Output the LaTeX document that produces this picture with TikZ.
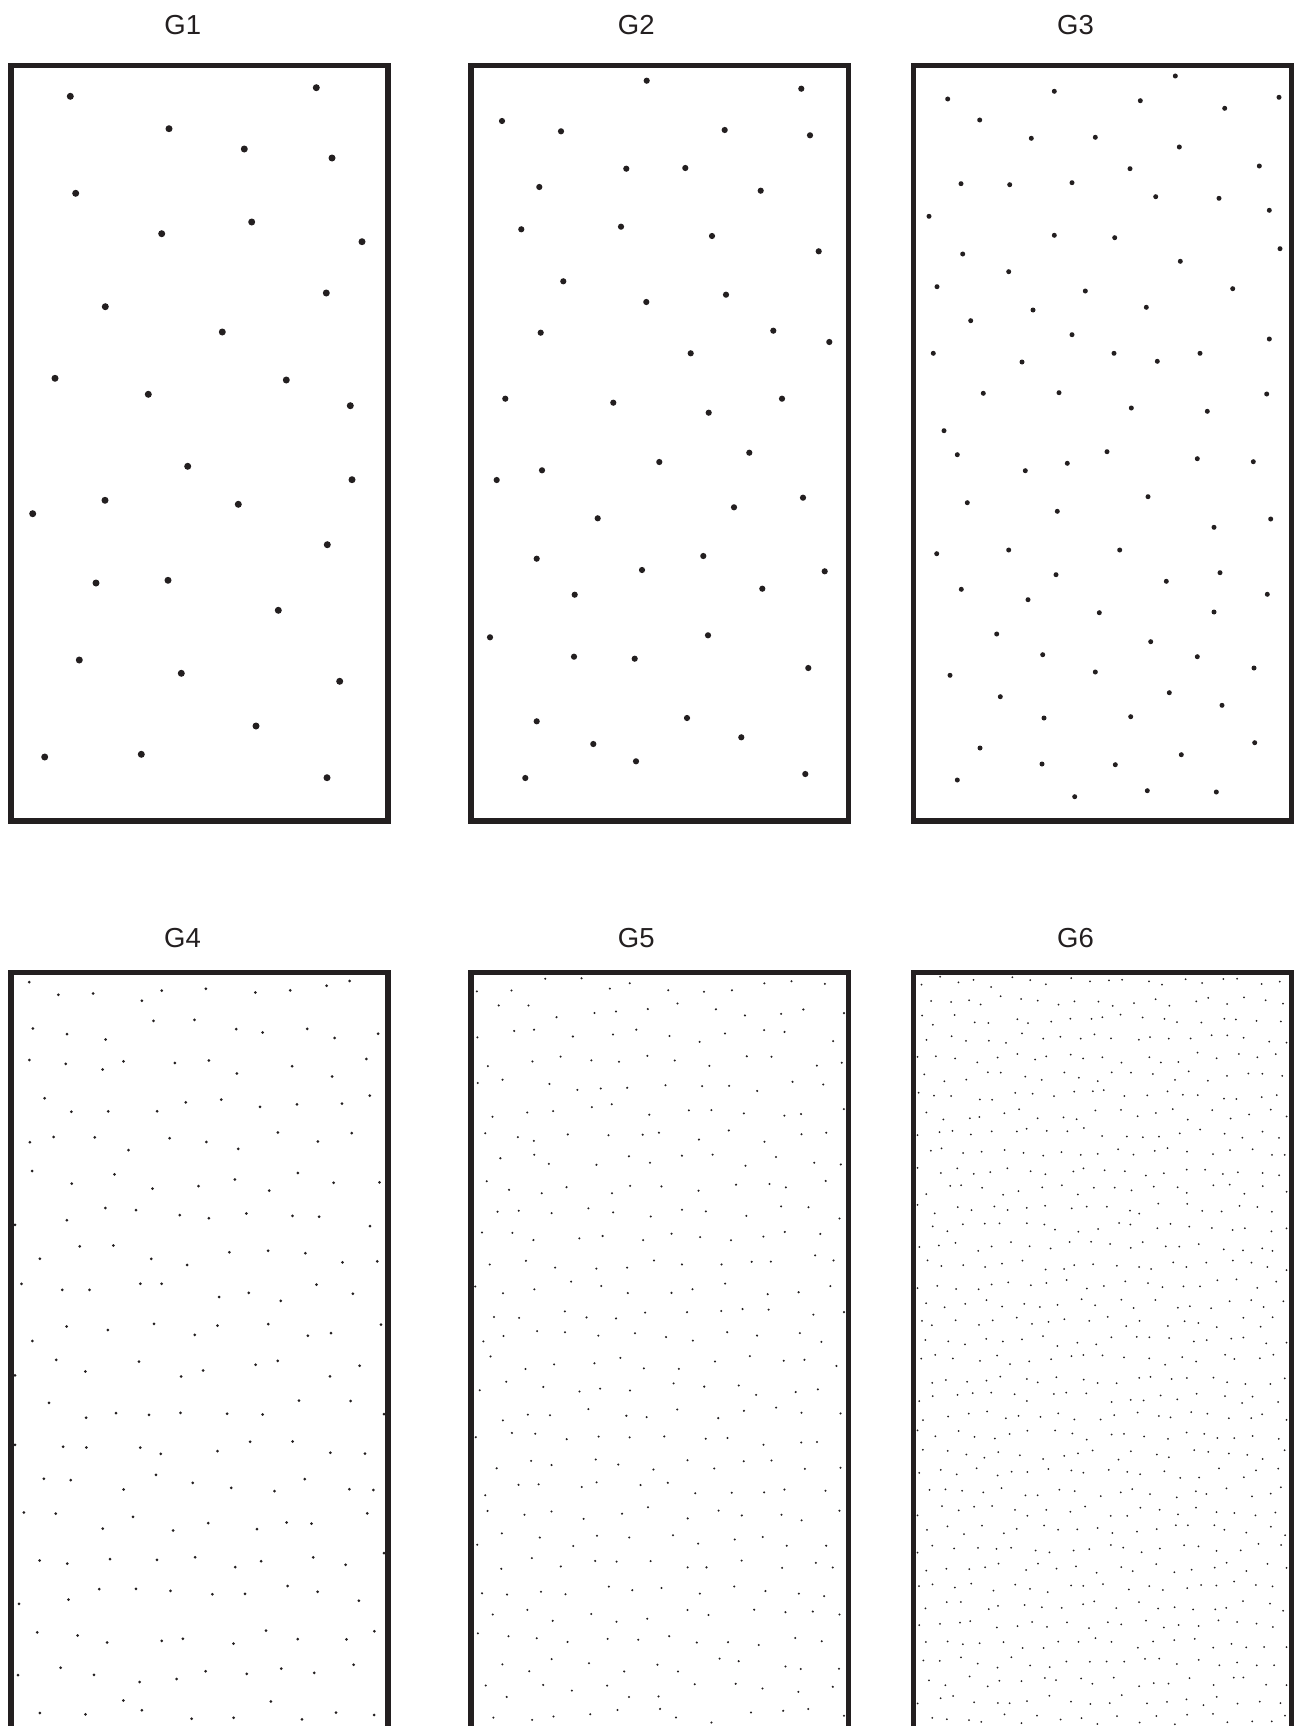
\documentclass[tikz,border=0pt]{standalone}
\usepackage{fontspec}
\setmainfont{Liberation Sans}
\definecolor{ink}{RGB}{35,31,32}
\begin{document}
\begin{tikzpicture}[x=1pt,y=-1pt]
\tikzset{
  frame/.style={draw=ink, line width=5.5pt},
  lbl/.style={font=\fontsize{27.5}{30}\selectfont, text=ink, anchor=base, inner sep=0pt}
}
\useasboundingbox (0,0) rectangle (1300,1726);
% labels
\node[lbl] (l1) at (182.7,34.3) {G1};
\node[lbl] (l2) at (636.3,34.3) {G2};
\node[lbl] (l3) at (1075.5,34.3) {G3};
\node[lbl] (l4) at (182.5,947.7) {G4};
\node[lbl] (l5) at (636.3,947.7) {G5};
\node[lbl] (l6) at (1075.5,947.7) {G6};
% G1 dots
\foreach \x/\y in {70.3/96.3,316.3/87.7,169/128.7,244.3/149,332/158,75.7/193.3,251.7/222,161.7/233.7,362/241.7,326.3/293,105.3/306.7,222.3/332,55/378.3,148.3/394.3,286.3/380,350.3/405.7,187.7/466.3,352/479.7,105/500.3,32.7/513.7,238.3/504.3,327.3/544.7,96/583,168/580.3,278.3/610.3,79.3/660,181.3/673.3,339.7/681.3,256/726,44.7/757,141.3/754.3,327/777.7}
  \fill[ink] (\x,\y) circle (3.5pt);
% G2 dots
\foreach \x/\y in {646.7/80.7,801.3/88.7,502/121,561/131.3,724.7/130,810/135.3,626.3/168.7,685.3/168,539.3/187,760.7/190.7,521.3/229.3,621/226.7,712/236,818.7/251.3,563.3/281.3,646.3/302,726/294.7,540.7/332.7,773.3/330.7,829.3/342,690.7/353.3,505.3/398.7,613.3/402.7,708.7/412.7,782/398.7,
749.3/452.7,659.3/462,542/470.3,496.7/480,803/497.7,734/507.3,597.7/518.3,536.7/558.7,703.3/556,642/570,824.7/571.3,574.7/594.7,762.3/588.7,490/637.3,708/635.3,574/656.7,634.7/658.7,808.3/668,536.7/721.3,687/718,741.3/737.3,593.3/744,636/761.3,525.3/778,805.3/774}
  \fill[ink] (\x,\y) circle (3.1pt);
% G3 dots
\foreach \x/\y in {1175.3/76,1054.3/91.3,947.7/99,1140.3/100.7,1279/97.3,1224.7/108.3,979.7/120,1031.3/138.3,1095.3/137.3,1179.3/147,1130/168.7,1259.3/166,961/183.7,1009.7/184.7,1072/182.7,1155.7/196.7,1219/198.3,1269.3/210.3,929/216.3,1054.3/235.3,1114.7/237.7,1280/248.7,962.7/254,1180.3/261.3,1008.7/271.7,937/286.7,1085.3/291,1232.7/288.7,1033/310,1146.3/307.3,970.7/320.7,1072/334.7,1269.3/339,933.3/353.3,1114/353.3,1022/362,1157.3/361.3,1200/353.3,983.3/393.3,1059/392.7,1266.7/394,1131.3/408,1207.3/411.3,944/430.7,
957.3/454.7,1107/451.7,1025.3/470.7,1067.3/463.3,1197.3/458.7,1253.3/461.7,967.3/502.7,1148/496.7,1057.3/511.3,1270.7/519,1214/527.3,936.7/553.7,1008.7/550,1119.7/550,1056/574.7,1220/572.7,1166.3/581.3,961.3/589.3,1028/599.7,1267.3/594.3,1099.3/612.7,1214/612,996.7/634,1150.7/641.7,1042.7/654.7,1197.3/656.7,950/675.3,1095.3/672,1254/668,1000.3/696.7,1169.3/692.7,1222/705.3,1044/718,1130.7/716.7,980/748,1181.3/754.7,1254.7/742.7,1042/764,1115.3/764.7,957.3/780,1074.7/796.7,1147.3/790.7,1216.3/792}
  \fill[ink] (\x,\y) circle (2.5pt);
% G4, G5, G6: jittered hexagonal grids
\pgfmathsetseed{4711}
% args: x0, y0, cols, rows, radius
\foreach \xo/\yo/\cols/\rows/\rad in {11/972.5/10/20/1.5, 471/972.5/12/30/1.15, 913.5/972.5/20/40/1.0}{
  \pgfmathsetmacro\sx{377/\cols}
  \pgfmathsetmacro\sy{756/\rows}
  \pgfmathtruncatemacro\cm{\cols-1}
  \pgfmathtruncatemacro\rm{\rows-1}
  \foreach \r in {0,...,\rm}{
    \foreach \c in {0,...,\cm}{
      \pgfmathsetmacro\px{\xo+\sx*(\c+0.25+0.5*mod(\r,2))+0.28*\sx*rand}
      \pgfmathsetmacro\py{\yo+\sy*(\r+0.5)+0.28*\sy*rand}
      \pgfmathsetmacro\qx{max(\xo+4,min(\xo+373,\px))}
      \pgfmathsetmacro\qy{max(\yo+4,\py)}
      \fill[ink] (\qx,\qy) circle (\rad pt);
    }
  }
}
% frames
\draw[frame] (11,65.5) rectangle (388,821);
\draw[frame] (471,65.5) rectangle (848.3,821);
\draw[frame] (913.5,65.5) rectangle (1291.7,821);
\draw[frame] (11,972.5) rectangle (388,1728.5);
\draw[frame] (471,972.5) rectangle (848.3,1728.5);
\draw[frame] (913.5,972.5) rectangle (1291.7,1728.5);
\end{tikzpicture}
\end{document}
